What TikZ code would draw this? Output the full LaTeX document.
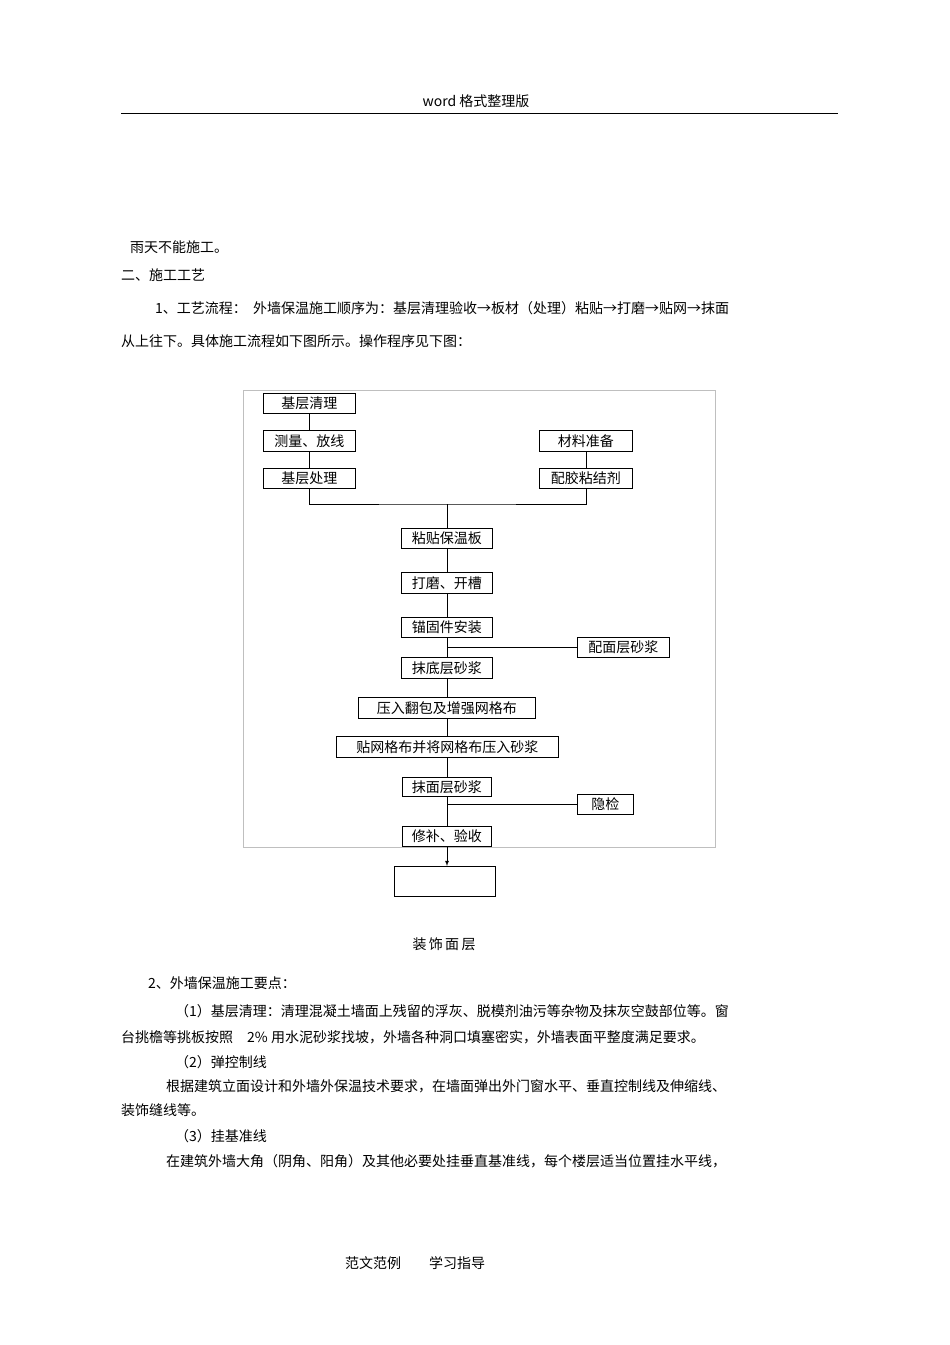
\documentclass[tikz,border=0pt]{standalone}
\usepackage{fontspec}
\setmainfont{Liberation Sans}
\newfontfamily\cjk{Noto Sans CJK SC}
\begin{document}
\begin{tikzpicture}[x=1pt,y=-1pt,
  txt/.style={anchor=west,inner sep=0pt,font=\cjk\fontsize{14}{16}\selectfont},
  bx/.style={draw,thick,inner sep=0pt,font=\cjk\fontsize{14}{16}\selectfont,anchor=north west},
  ln/.style={thick}]
\useasboundingbox (0,0) rectangle (950,1345);
\node[txt,anchor=center] (hd) at (476,101) {word 格式整理版};
\draw (121,113) -- (838,113);
\node[txt] (t1) at (130,247) {雨天不能施工。};
\node[txt] (t2) at (121,275) {二、施工工艺};
\node[txt] (t3) at (155,308) {1、工艺流程：\ \ 外墙保温施工顺序为：基层清理验收→板材（处理）粘贴→打磨→贴网→抹面};
\node[txt] (t4) at (121,341) {从上往下。具体施工流程如下图所示。操作程序见下图：};
% frame
\draw[gray!50] (243,390) rectangle (715,847);
% boxes
\newcommand\mybox[6]{\node[bx,minimum width=#4-#2,minimum height=#5-#3] (#1) at (#2,#3) {#6};}
\mybox{a}{263}{393}{355}{413}{基层清理}
\mybox{b}{263}{430}{355}{451}{测量、放线}
\mybox{c}{263}{468}{355}{488}{基层处理}
\mybox{d}{539}{430}{632}{451}{材料准备}
\mybox{e}{539}{468}{632}{488}{配胶粘结剂}
\mybox{f}{401}{528}{492}{548}{粘贴保温板}
\mybox{g}{401}{572}{492}{593}{打磨、开槽}
\mybox{h}{401}{617}{492}{637}{锚固件安装}
\mybox{i}{577}{637}{669}{657}{配面层砂浆}
\mybox{j}{401}{657}{492}{678}{抹底层砂浆}
\mybox{k}{358}{697}{535}{718}{压入翻包及增强网格布}
\mybox{l}{336}{736}{558}{757}{贴网格布并将网格布压入砂浆}
\mybox{m}{402}{777}{491}{796}{抹面层砂浆}
\mybox{n}{577}{794}{633}{814}{隐检}
\mybox{o}{402}{826}{491}{846}{修补、验收}
\draw[thick] (394,866) rectangle (495,896);
\node[txt,anchor=center] (p) at (444,944) {装\,饰\,面\,层};
\draw[ln] (a) -- (b); \draw[ln] (b) -- (c); \draw[ln] (d) -- (e);
\coordinate (jn) at (447,504);
\draw[ln] (c.south) |- (jn) -| (e.south);
\draw[ln] (jn) -- (f.north -| jn);
\draw[ln] (f.south -| jn) -- (g.north -| jn);
\draw[ln] (g.south -| jn) -- (h.north -| jn);
\draw[ln] (h.south -| jn) -- (j.north -| jn);
\draw[ln] (i.west) -- (i.west -| jn);
\draw[ln] (j.south -| jn) -- (k.north -| jn);
\draw[ln] (k.south -| jn) -- (l.north -| jn);
\draw[ln] (l.south -| jn) -- (m.north -| jn);
\draw[ln] (m.south -| jn) -- (o.north -| jn);
\draw[ln] (n.west) -- (n.west -| jn);
\coordinate (bt) at (447,866);
\draw[thick,-latex] (o.south -| jn) -- (bt);
% body
\node[txt] (t5) at (148,983) {2、外墙保温施工要点：};
\node[txt] (t6) at (175,1011) {（1）基层清理：清理混凝土墙面上残留的浮灰、脱模剂油污等杂物及抹灰空鼓部位等。窗};
\node[txt] (t7) at (121,1037) {台挑檐等挑板按照\quad 2\% 用水泥砂浆找坡，外墙各种洞口填塞密实，外墙表面平整度满足要求。};
\node[txt] (t8) at (175,1062) {（2）弹控制线};
\node[txt] (t9) at (166,1086) {根据建筑立面设计和外墙外保温技术要求，在墙面弹出外门窗水平、垂直控制线及伸缩线、};
\node[txt] (t10) at (121,1110) {装饰缝线等。};
\node[txt] (t11) at (175,1136) {（3）挂基准线};
\node[txt] (t12) at (166,1161) {在建筑外墙大角（阴角、阳角）及其他必要处挂垂直基准线，每个楼层适当位置挂水平线，};
\node[txt] (ft) at (345,1263) {范文范例\qquad 学习指导};
\end{tikzpicture}
\end{document}
